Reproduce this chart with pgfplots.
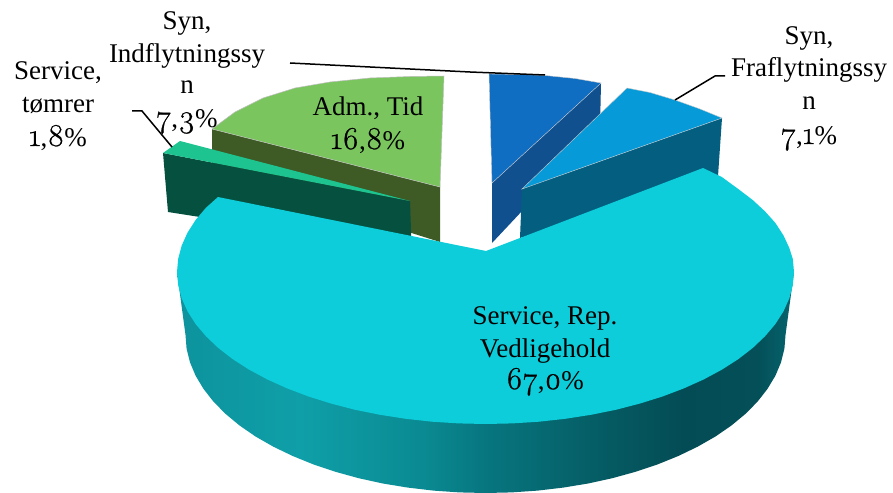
\documentclass[border=0pt]{standalone}
\usepackage{fontspec}
\setmainfont{Liberation Serif}
\newfontfamily\oldnum[Numbers=OldStyle,Scale=1.18,FakeBold=0.7]{Latin Modern Roman}
\usepackage{pgfplots}
\pgfplotsset{compat=1.18}
\definecolor{cyantop}{HTML}{0CCDD9}
\definecolor{greentop}{HTML}{7AC55E}
\definecolor{greenside}{HTML}{3E5A25}
\definecolor{tealtop}{HTML}{1DC490}
\definecolor{tealside}{HTML}{06503F}
\definecolor{bluetop}{HTML}{0F6DC2}
\definecolor{blueside}{HTML}{11508F}
\definecolor{skytop}{HTML}{069BD8}
\definecolor{skyside}{HTML}{045E80}
\definecolor{sa}{HTML}{0D939D}
\definecolor{sb}{HTML}{0F9FA8}
\definecolor{sc}{HTML}{0A8A92}
\definecolor{sd}{HTML}{07767F}
\definecolor{se}{HTML}{055A62}
\definecolor{sf}{HTML}{044C55}
\definecolor{sg}{HTML}{044F58}
\definecolor{sh}{HTML}{06656E}
\pgfdeclarehorizontalshading{cyanside}{100bp}{
 color(0bp)=(sa); color(25bp)=(sa);
 color(35bp)=(sb); color(45bp)=(sc);
 color(50bp)=(sd); color(60bp)=(se);
 color(66bp)=(sf); color(72bp)=(sg);
 color(75bp)=(sh); color(100bp)=(sh)}
\newcommand{\od}[1]{{\oldnum #1}}
\begin{document}
\begin{tikzpicture}
\begin{axis}[
  scale only axis, width=893pt, height=492pt,
  xmin=0, xmax=893, ymin=0, ymax=492, y dir=reverse,
  hide axis, clip=true,
  every axis plot/.append style={no markers},
  nodes={font=\fontsize{27}{32}\selectfont, align=center, inner sep=0pt, text=black, anchor=base},
]
% page background
\addplot[fill=white, draw=none] coordinates {(0,0)(893,0)(893,492)(0,492)} -- cycle;
% green slice
\addplot[fill=greenside, draw=none] coordinates {(212,129)(440,187)(440,242)(212,170)} -- cycle;
\addplot[fill=greentop, draw=black!25, line width=0.5pt] coordinates {(212,129)(235,112)(263,98)(295,88)(330,82)(370,78)(410,76.5)(444,76)(440,187)} -- cycle;
% teal slice
\addplot[fill=tealside, draw=none] coordinates {(163,153)(410,201)(412,260)(200,217)(168,212)} -- cycle;
\addplot[fill=tealtop, draw=none] coordinates {(163,153)(180,141)(410,201)} -- cycle;
% dark blue slice
\addplot[fill=blueside, draw=none] coordinates {(601,83)(492,183)(492,243)(600,128)} -- cycle;
\addplot[fill=bluetop, draw=black!20, line width=0.4pt] coordinates {(489,74)(520,74.5)(545,75.5)(575,78.5)(601,83)(492,183)} -- cycle;
% light blue slice
\addplot[fill=skyside, draw=none] coordinates {(522,189)(722,118)(718,176)(520,238)} -- cycle;
\addplot[fill=skytop, draw=black!20, line width=0.4pt] coordinates {(522,189)(627,88)(650,92.5)(675,100)(700,109)(722,118)} -- cycle;
% main slice: side
\addplot[draw=none, shade, shading=cyanside] coordinates {(177,272)(185.5,335)(186.6,348.8)(190,362.4)(195.7,375.9)(203.6,389)(213.6,401.8)(225.7,414)(239.7,425.6)(255.7,436.6)(273.4,446.7)(292.7,456)(313.4,464.4)(335.5,471.8)(358.7,478.2)(382.9,483.5)(407.9,487.6)(433.4,490.6)(459.3,492.4)(485.5,493)(511.6,492.4)(537.6,490.6)(563.1,487.6)(588.1,483.5)(612.3,478.2)(635.5,471.8)(657.6,464.4)(678.3,456)(697.6,446.7)(715.3,436.6)(731.3,425.6)(745.3,414)(757.4,401.8)(767.4,389)(775.3,375.9)(781,362.4)(784.4,348.8)(785.5,335)(794,272)} -- cycle;
% main slice: top
\addplot[fill=cyantop, draw=none] coordinates {(486,251)(218,197)(205.9,207.8)(195.6,220)(187.5,232.7)(181.7,245.6)(178.2,258.7)(177,272)(178.2,285.3)(181.7,298.4)(187.5,311.3)(195.6,324)(205.9,336.2)(218.3,348)(232.8,359.2)(249.2,369.7)(267.4,379.5)(287.2,388.4)(308.5,396.5)(331.25,403.6)(355.1,409.8)(380,414.8)(405.7,418.8)(431.9,421.7)(458.6,423.4)(485.5,424)(512.4,423.4)(539.1,421.7)(565.3,418.8)(591,414.8)(615.9,409.8)(639.75,403.6)(662.5,396.5)(683.8,388.4)(703.6,379.5)(721.8,369.7)(738.2,359.2)(752.7,348)(765.1,336.2)(775.4,324)(783.5,311.3)(789.3,298.4)(792.8,285.3)(794,272)(792.8,259)(789.3,248)(783.5,235.5)(775.4,223)(765.1,211.5)(752.7,200)(738.2,189)(721.8,177)(703,168)} -- cycle;
% leader lines
\addplot[black, line width=1.5pt] coordinates {(290,63)(470,72)(545,75)};
\addplot[black, line width=1.5pt] coordinates {(675,100)(715,76)(725,76)};
\addplot[black, line width=1.5pt] coordinates {(132,111)(142,111)(172,147)};
% labels
\node at (axis cs:187,30) {Syn,};
\node at (axis cs:187,63) {Indflytningssy};
\node at (axis cs:187,94) {n};
\node at (axis cs:187,127) {\od{7},\od{3}\%};
\node at (axis cs:58,80) {Service,};
\node at (axis cs:58,113) {tømrer};
\node at (axis cs:58,146) {\od{1},\od{8}\%};
\node at (axis cs:368,116) {Adm., Tid};
\node at (axis cs:368,149) {\od{16},\od{8}\%};
\node at (axis cs:809,45) {Syn,};
\node at (axis cs:809,77) {Fraflytningssy};
\node at (axis cs:809,110) {n};
\node at (axis cs:809,144) {\od{7},\od{1}\%};
\node at (axis cs:545,324) {Service, Rep.};
\node at (axis cs:545,357) {Vedligehold};
\node at (axis cs:545,389) {\od{67},\od{0}\%};
\end{axis}
\end{tikzpicture}
\end{document}
